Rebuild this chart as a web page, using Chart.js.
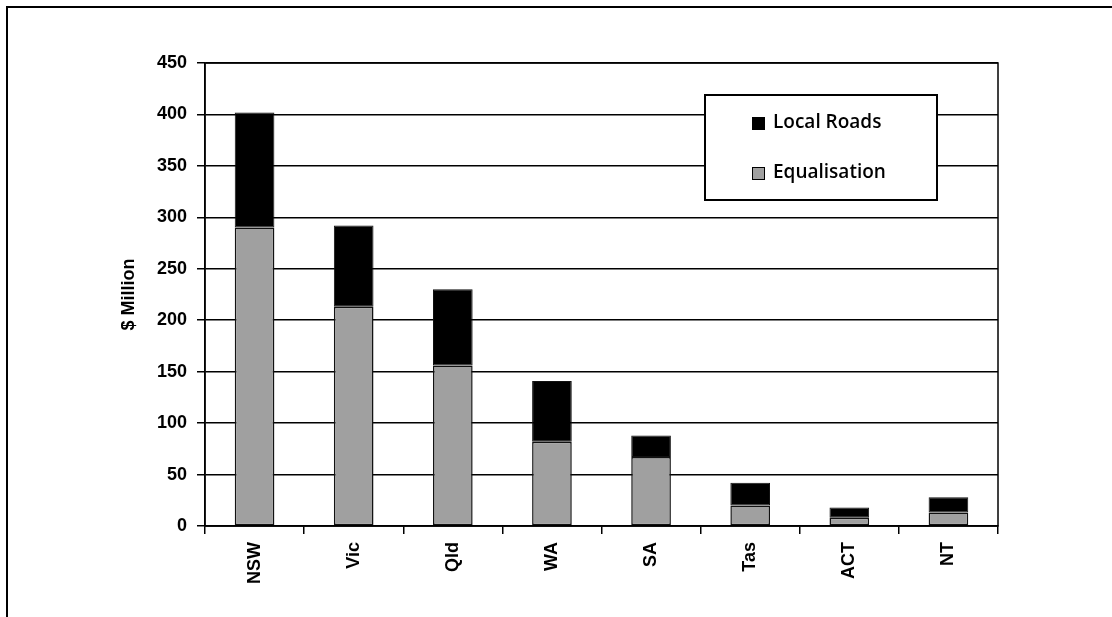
<!DOCTYPE html>
<html>
<head>
<meta charset="utf-8">
<script src="https://cdn.jsdelivr.net/npm/chart.js@4/dist/chart.umd.min.js"></script>
<style>
  body { margin: 0; background: #fff; }
  #wrap { position: relative; width: 1112px; height: 617px; overflow: hidden; }
  #frame { position: absolute; left: 6px; top: 6px; width: 1200px; height: 700px;
           border-top: 2px solid #000; border-left: 2px solid #000; }
  canvas { position: absolute; left: 0; top: 0; }
</style>
</head>
<body>
<div id="wrap">
  <div id="frame"></div>
  <canvas id="bar-chart" width="1112" height="617"></canvas>
</div>
<script>
// states, with grant amounts ($ million)
const states = ["NSW", "Vic", "Qld", "WA", "SA", "Tas", "ACT", "NT"];
const equalisation = [290, 213, 156, 82, 67, 20, 8, 13];
const localRoads = [112, 79, 74, 59, 21, 22, 10, 15];
const yTicks = { min: 0, max: 450, step: 50 };

// draws the plot outline and the boxed legend
const boxPlugin = {
  id: "box",
  afterDraw(chart) {
    const ctx = chart.ctx;
    const a = chart.chartArea;
    ctx.save();
    ctx.strokeStyle = "#000";
    ctx.lineWidth = 1.5;
    ctx.strokeRect(a.left, a.top, a.right - a.left, a.bottom - a.top);

    // legend box
    ctx.fillStyle = "#fff";
    ctx.fillRect(705, 95, 232, 105);
    ctx.lineWidth = 2;
    ctx.strokeRect(705, 95, 232, 105);

    const items = chart.data.datasets.slice().reverse();
    ctx.font = "600 19px 'Open Sans'";
    ctx.textBaseline = "middle";
    items.forEach((ds, i) => {
      const y = 123 + i * 50;
      ctx.fillStyle = ds.backgroundColor;
      ctx.fillRect(752, y - 6, 13, 13);
      ctx.lineWidth = 1;
      ctx.strokeStyle = "#000";
      ctx.strokeRect(752.5, y - 5.5, 12, 12);
      ctx.fillStyle = "#000";
      ctx.fillText(ds.label, 773, y);
    });
    ctx.restore();
  }
};

new Chart(document.getElementById("bar-chart"), {
  type: "bar",
  data: {
    labels: states,
    datasets: [
      {
        label: "Equalisation",
        data: equalisation,
        backgroundColor: "#a0a0a0",
        borderColor: "#111",
        borderWidth: 1.5,
        borderSkipped: false
      },
      {
        label: "Local Roads",
        data: localRoads,
        backgroundColor: "#000000",
        borderColor: "#111",
        borderWidth: 1,
        borderSkipped: false
      }
    ]
  },
  options: {
    responsive: false,
    animation: false,
    layout: { padding: { left: 110, top: 63, right: 114, bottom: 0 } },
    datasets: { bar: { categoryPercentage: 1, barPercentage: 0.4 } },
    plugins: {
      legend: { display: false },
      tooltip: { enabled: false }
    },
    scales: {
      x: {
        stacked: true,
        afterFit: (s) => { s.height = 91; },
        grid: { drawOnChartArea: false, drawTicks: true, tickLength: 8, color: "#000", lineWidth: 1.5 },
        border: { display: true, color: "#000", width: 1.5 },
        ticks: {
          minRotation: 90,
          maxRotation: 90,
          padding: 8,
          color: "#000",
          font: { family: "Liberation Sans", size: 18, weight: "bold" }
        }
      },
      y: {
        stacked: true,
        min: yTicks.min,
        max: yTicks.max,
        afterFit: (s) => { s.width = 95; },
        grid: { color: "#000", lineWidth: 1.5, tickLength: 8 },
        border: { display: true, color: "#000", width: 1.5 },
        ticks: {
          stepSize: yTicks.step,
          padding: 10,
          color: "#000",
          font: { family: "Liberation Sans", size: 18, weight: "bold" }
        },
        title: {
          display: true,
          text: "$ Million",
          color: "#000",
          padding: { top: 8, bottom: 0 },
          font: { family: "Liberation Sans", size: 18, weight: "bold" }
        }
      }
    }
  },
  plugins: [boxPlugin]
});
</script>
</body>
</html>
